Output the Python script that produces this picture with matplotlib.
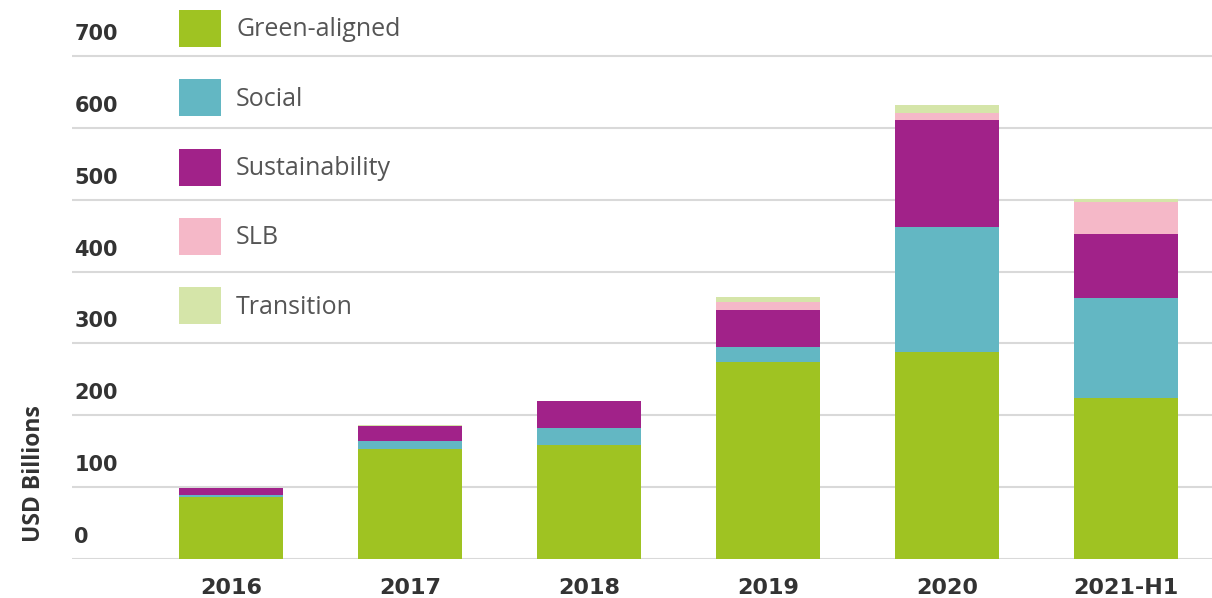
import numpy as np
import matplotlib.pyplot as plt

years = ['2016', '2017', '2018', '2019', '2020', '2021-H1']
green = [86, 153, 159, 274, 288, 224]
social = [3, 11, 23, 21, 174, 139]
sustainability = [10, 21, 38, 52, 149, 89]
slb = [0, 0, 0, 11, 10, 45]
transition = [0, 1, 0, 7, 11, 4]

series = [green, social, sustainability, slb, transition]
names = ['Green-aligned', 'Social', 'Sustainability', 'SLB', 'Transition']
colours = ['#9fc322', '#63b7c3', '#a12289', '#f5b8c8', '#d5e5a9']
yticks = [0, 100, 200, 300, 400, 500, 600, 700]

fig = plt.figure(figsize=(12.12, 5.98), dpi=100)
ax = fig.add_axes([72 / 1212, 39 / 598, 1 - 72 / 1212, 559 / 598])

x = np.arange(len(years))
bottom = np.zeros(len(years))
handles = []
for vals, name, c in zip(series, names, colours):
    bars = ax.bar(x, vals, width=0.58, bottom=bottom, color=c,
                  edgecolor='none', label=name, zorder=2)
    handles.append(bars)
    bottom += np.array(vals)

ax.set_xlim(-0.888, 5.48)
ax.set_ylim(0, 778)
ax.set_yticks(yticks)
ax.yaxis.grid(True, color='#d9d9d9', linewidth=1.5, zorder=0)
ax.tick_params(axis='y', length=0, labelleft=False)
ax.tick_params(axis='x', length=0, pad=14)
ax.set_xticks(x)
ax.set_xticklabels(years, fontsize=16, fontweight='bold', color='#333333',
                   family='DejaVu Sans')
for s in ax.spines.values():
    s.set_visible(False)

# y labels sit above their gridlines
for t in yticks:
    ax.annotate(str(t), xy=(0.002, t), xycoords=('axes fraction', 'data'),
                xytext=(0, 11.5), textcoords='offset points',
                ha='left', va='baseline', fontsize=15, fontweight='bold',
                color='#333333', family='DejaVu Sans')

fig.text(34 / 1212, 1 - 474 / 598, 'USD Billions', rotation=90,
         ha='center', va='center', fontsize=16.5, fontweight='bold',
         color='#333333', family='Open Sans')

leg = fig.legend(handles=handles, loc='upper left',
                 bbox_to_anchor=(179 / 1212, 1 - 10 / 598),
                 frameon=False, borderpad=0, borderaxespad=0,
                 handlelength=1.68, handleheight=1.9, handletextpad=0.6,
                 labelspacing=1.29, prop={'family': 'Open Sans', 'size': 18})
for txt in leg.get_texts():
    txt.set_color('#555555')

fig.savefig('out.png', dpi=100, facecolor='white')
